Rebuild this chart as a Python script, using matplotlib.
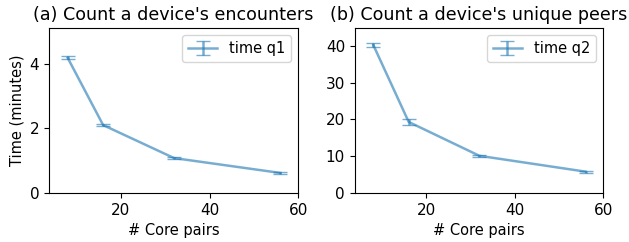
import matplotlib
matplotlib.use("Agg")
import matplotlib.pyplot as plt
import numpy as np

cores = [8, 16, 32, 56]
time_q1 = [4.18, 2.10, 1.08, 0.62]
err_q1 = [0.05, 0.04, 0.02, 0.02]
time_q2 = [40.2, 19.3, 10.1, 5.8]
err_q2 = [0.6, 0.9, 0.2, 0.3]

plt.rcParams["font.size"] = 10.5
plt.rcParams["xtick.labelsize"] = 11
plt.rcParams["ytick.labelsize"] = 11

fig = plt.figure(figsize=(6.29, 2.42), dpi=100)
ax1 = fig.add_axes([0.078, 0.2025, 0.396, 0.6815])
ax2 = fig.add_axes([0.564, 0.2025, 0.395, 0.6815])

ax1.errorbar(cores, time_q1, yerr=err_q1, capsize=5, lw=1.8, color="#1f77b4", alpha=0.6, label="time q1")
ax1.set_xlim(3.8, 60)
ax1.set_ylim(0, 5.1)
ax1.set_xticks([20, 40, 60])
ax1.set_xlabel("# Core pairs")
ax1.set_ylabel("Time (minutes)")
ax1.set_title("(a) Count a device's encounters", fontsize=12.6)
ax1.legend(loc="upper right")

ax2.errorbar(cores, time_q2, yerr=err_q2, capsize=5, lw=1.8, color="#1f77b4", alpha=0.6, label="time q2")
ax2.set_xlim(3.8, 60)
ax2.set_ylim(0, 44.8)
ax2.set_xticks([20, 40, 60])
ax2.set_xlabel("# Core pairs")
ax2.set_title("(b) Count a device's unique peers", fontsize=12.6)
ax2.legend(loc="upper right")

fig.savefig("out.png", dpi=100)
